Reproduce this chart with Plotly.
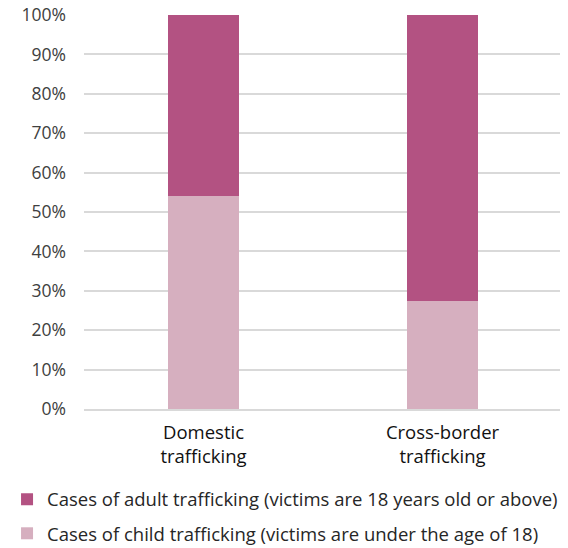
import plotly.graph_objects as go

categories = ["Domestic<br>trafficking", "Cross-border<br>trafficking"]
child_pct = [54.0, 27.5]
adult_pct = [46.0, 72.5]
tick_vals = [0, 10, 20, 30, 40, 50, 60, 70, 80, 90, 100]
tick_text = [f"{v}%" for v in tick_vals]

fig = go.Figure()
fig.add_trace(go.Bar(x=categories, y=child_pct, name="Cases of child trafficking (victims are under the age of 18)",
                     legendgroup="child", legendrank=2,
                     marker=dict(color="#D6AFBF", line=dict(width=0)), width=0.3))
fig.add_trace(go.Bar(x=categories, y=adult_pct, name="Cases of adult trafficking (victims are 18 years old or above)",
                     legendgroup="adult", legendrank=1,
                     marker=dict(color="#B35282", line=dict(width=0)), width=0.3))

# page body has an 8px default margin, so the figure is drawn 8px smaller and offset
fig.update_layout(
    barmode="stack",
    width=560, height=540,
    margin=dict(l=76, r=6, t=7, b=139, autoexpand=False),
    paper_bgcolor="white", plot_bgcolor="white",
    font=dict(family="Open Sans, Noto Sans, sans-serif", size=16, color="#404040"),
    showlegend=True,
    legend=dict(orientation="v", traceorder="grouped", x=-0.161, xref="paper", xanchor="left",
                y=-0.182, yref="paper", yanchor="top",
                font=dict(size=18.5, color="#262626"), itemwidth=30, tracegroupgap=7),
    yaxis=dict(range=[0, 100], tickvals=tick_vals, ticktext=tick_text, showgrid=True,
               gridcolor="#D9D9D9", gridwidth=1.5, zeroline=False, showline=False,
               ticks="", ticklen=0, tickfont=dict(size=17.5, color="#404040"), automargin=False,
               ticklabelstandoff=17, ticklabeloverflow="allow"),
    xaxis=dict(showline=True, linecolor="#D9D9D9", linewidth=1.5, ticks="", tickangle=0,
               tickfont=dict(size=18.5, color="#111111"), automargin=False,
               ticklabelstandoff=6),
)
fig.write_html("out.html")
